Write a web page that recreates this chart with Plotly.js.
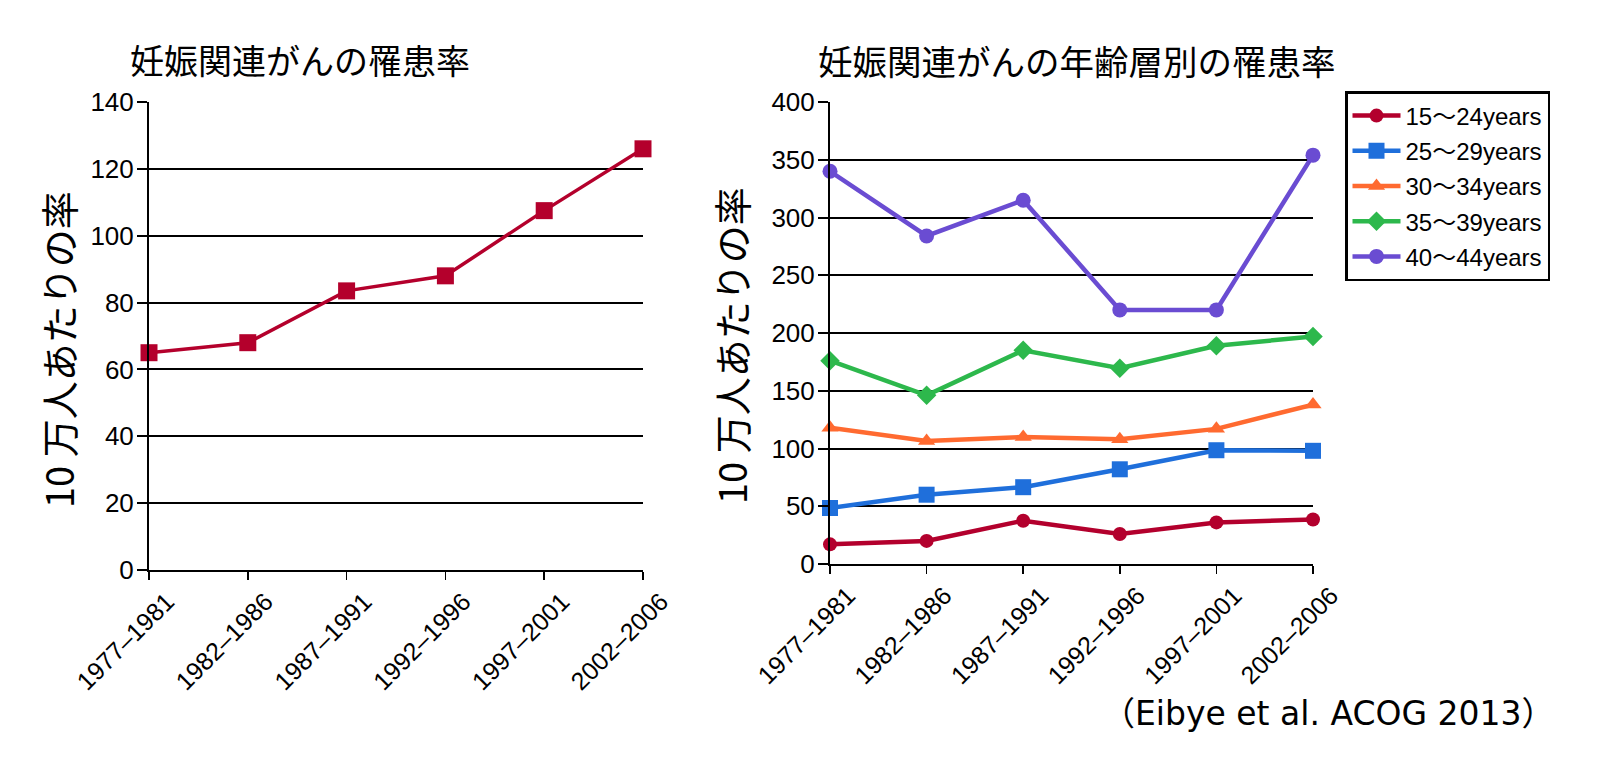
<!DOCTYPE html>
<html>
<head>
<meta charset="utf-8">
<script src="https://cdn.plot.ly/plotly-3.0.1.min.js"></script>
<style>
  html, body { margin: 0; padding: 0; background: #ffffff; }
  #chart { width: 1600px; height: 765px; }
</style>
</head>
<body>
<div id="chart"></div>
<script>
// ---- Data ----
const periods = ['1977–1981', '1982–1986', '1987–1991', '1992–1996', '1997–2001', '2002–2006'];
const overallRate = [65, 68, 83.5, 88, 107.5, 126];

const ageGroups = ['15～24years', '25～29years', '30～34years', '35～39years', '40～44years'];
const age15to24 = [17, 20, 37.5, 26, 36, 38.5];
const age25to29 = [48.5, 60, 66.5, 82, 98.5, 98];
const age30to34 = [118, 106.5, 110, 108, 117, 138];
const age35to39 = [176, 146, 185, 169.5, 189, 197];
const age40to44 = [340, 284, 315, 220, 220, 354];

const leftTitle = '妊娠関連がんの罹患率';
const rightTitle = '妊娠関連がんの年齢層別の罹患率';
const yTitle = '10 万人あたりの率';
const sourceText = '（Eibye et al. ACOG 2013）';

const leftTicks = [0, 20, 40, 60, 80, 100, 120, 140];
const rightTicks = [0, 50, 100, 150, 200, 250, 300, 350, 400];

// ---- Styles ----
const W = 1600, H = 765;
const latin = 'Liberation Sans, Arial, Noto Sans CJK JP, sans-serif';
const cjk = 'Noto Sans CJK JP, Noto Sans CJK SC, sans-serif';

const seriesStyle = [
  { color: '#B3002D', symbol: 'circle', size: 14 },
  { color: '#1F6FDB', symbol: 'square', size: 16 },
  { color: '#FF6A30', symbol: 'triangle-up', size: 15 },
  { color: '#2DB84C', symbol: 'diamond', size: 15 },
  { color: '#6A4CD2', symbol: 'circle', size: 15 }
];
const ageSeries = [age15to24, age25to29, age30to34, age35to39, age40to44];

const traces = [];
traces.push({
  type: 'scatter', mode: 'lines+markers',
  x: periods, y: overallRate,
  xaxis: 'x', yaxis: 'y',
  line: { color: '#B4002C', width: 3.5 },
  marker: { symbol: 'square', size: 17, color: '#B4002C' },
  cliponaxis: false, showlegend: false, name: leftTitle
});
ageSeries.forEach((vals, i) => {
  traces.push({
    type: 'scatter', mode: 'lines+markers',
    x: periods, y: vals,
    xaxis: 'x2', yaxis: 'y2',
    name: ageGroups[i], legendgroup: 'g' + i,
    line: { color: seriesStyle[i].color, width: 4.5 },
    marker: { symbol: seriesStyle[i].symbol, size: seriesStyle[i].size, color: seriesStyle[i].color },
    cliponaxis: false
  });
});

function px2x(p) { return p / W; }
function px2y(p) { return 1 - p / H; }

const xCommon = {
  type: 'category', range: [0, 5],
  showline: true, linecolor: '#000', linewidth: 2,
  ticks: 'outside', ticklen: 8, tickwidth: 1.5, tickcolor: '#000',
  tickangle: -45, showgrid: false, zeroline: false,
  ticklabelshift: 18, ticklabelstandoff: -3,
  tickfont: { family: latin, size: 25, color: '#000' }
};
const yCommon = {
  showline: true, linecolor: '#000', linewidth: 2,
  ticks: 'outside', ticklen: 10, tickwidth: 2, tickcolor: '#000',
  showgrid: true, gridcolor: '#000', gridwidth: 2, zeroline: false,
  tickfont: { family: latin, size: 26, color: '#000' },
  ticklabelstandoff: -2
};

const layout = {
  width: W, height: H,
  margin: { l: 0, r: 0, t: 0, b: 0 },
  paper_bgcolor: '#ffffff', plot_bgcolor: '#ffffff',
  showlegend: true,
  xaxis: Object.assign({}, xCommon, { domain: [px2x(149), px2x(643)], anchor: 'y' }),
  yaxis: Object.assign({}, yCommon, {
    domain: [px2y(570), px2y(102)], anchor: 'x',
    range: [0, 140], tickvals: leftTicks, ticktext: leftTicks.map(String)
  }),
  xaxis2: Object.assign({}, xCommon, { domain: [px2x(830), px2x(1313)], anchor: 'y2' }),
  yaxis2: Object.assign({}, yCommon, {
    domain: [px2y(564), px2y(102)], anchor: 'x2',
    range: [0, 400], tickvals: rightTicks, ticktext: rightTicks.map(String)
  }),
  legend: {
    x: px2x(1345), y: px2y(91), xanchor: 'left', yanchor: 'top',
    bgcolor: '#ffffff', bordercolor: '#000', borderwidth: 2.5,
    font: { family: latin, size: 24, color: '#000' },
    traceorder: 'grouped', tracegroupgap: 1, itemwidth: 48
  },
  annotations: [
    { text: leftTitle, xref: 'paper', yref: 'paper', x: px2x(300), y: px2y(60),
      xanchor: 'center', yanchor: 'middle', showarrow: false,
      font: { family: cjk, size: 34, color: '#000' } },
    { text: rightTitle, xref: 'paper', yref: 'paper', x: px2x(1077), y: px2y(60),
      xanchor: 'center', yanchor: 'middle', showarrow: false,
      font: { family: cjk, size: 34.5, color: '#000' } },
    { text: yTitle, xref: 'paper', yref: 'paper', x: px2x(58), y: px2y(350),
      xanchor: 'center', yanchor: 'middle', showarrow: false, textangle: -90,
      font: { family: cjk, size: 38, color: '#000' } },
    { text: yTitle, xref: 'paper', yref: 'paper', x: px2x(731), y: px2y(346),
      xanchor: 'center', yanchor: 'middle', showarrow: false, textangle: -90,
      font: { family: cjk, size: 38, color: '#000' } },
    { text: sourceText, xref: 'paper', yref: 'paper', x: px2x(1328), y: px2y(713),
      xanchor: 'center', yanchor: 'middle', showarrow: false,
      font: { family: 'DejaVu Sans, Liberation Sans, Noto Sans CJK JP, sans-serif', size: 33, color: '#000' } }
  ]
};

Plotly.newPlot('chart', traces, layout, { displayModeBar: false, staticPlot: true });
</script>
</body>
</html>
